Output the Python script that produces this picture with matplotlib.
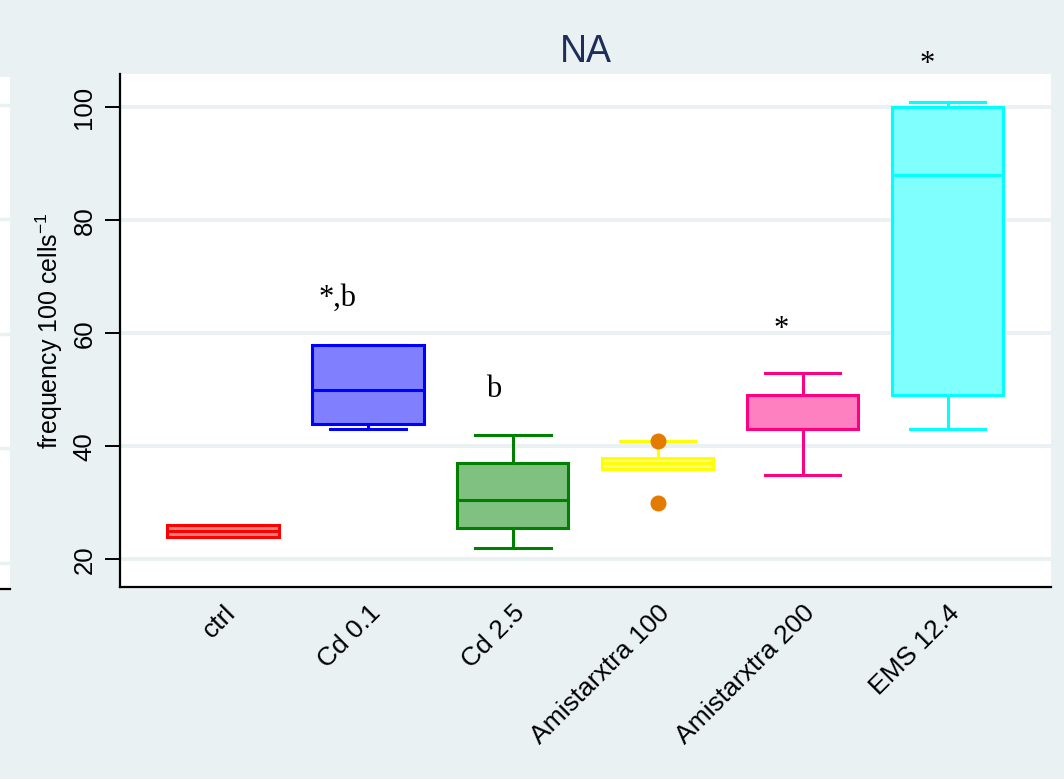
import matplotlib.pyplot as plt

plt.rcParams['font.family'] = ['Liberation Sans', 'DejaVu Sans']
plt.rcParams['mathtext.fontset'] = 'custom'
plt.rcParams['mathtext.rm'] = 'Liberation Sans'

# box summaries per treatment
groups = ['ctrl', 'Cd 0.1', 'Cd 2.5', 'Amistarxtra 100', 'Amistarxtra 200', 'EMS 12.4']
q1 = [24, 44, 25.5, 36, 43, 49]
med = [25, 50, 30.5, 37, 43, 88]
q3 = [26, 58, 37, 38, 49, 100]
whislo = [24, 43, 22, 36, 35, 43]
whishi = [26, 58, 42, 41, 53, 101]
fliers = [[], [], [], [41, 30], [], []]

edge_cols = ['#ff0000', '#0000ff', '#008000', '#ffff00', '#ff0080', '#00ffff']
fill_cols = ['#ff8080', '#8080ff', '#80c080', '#ffff80', '#ff80c0', '#80ffff']

# significance letters: text, x, baseline y
notes = ['*,b', 'b', '*', '*']
note_x = [0.79, 1.87, 3.85, 4.855]
note_y = [64.8, 48.7, 59.4, 106.3]

bg = '#e9f1f3'
W, H = 1064, 779

fig = plt.figure(figsize=(W / 100, H / 100), dpi=100, facecolor=bg)

# sliver of the neighbouring panel on the left
ax0 = fig.add_axes([0, 1 - 589 / H, 10 / W, 512 / H], facecolor='white')
ax0.set_ylim(15.4, 104.9)
ax0.set_yticks([20, 40, 60, 80, 100])
ax0.set_xticks([])
ax0.tick_params(axis='y', length=0, labelleft=False)
ax0.grid(axis='y', color=bg, lw=2.5)
for s in ['left', 'right', 'top']:
    ax0.spines[s].set_visible(False)
ax0.spines['bottom'].set_linewidth(1.6)

ax = fig.add_axes([120 / W, 1 - 587 / H, 930.7 / W, 513 / H], facecolor='white')

stats = []
for i in range(len(groups)):
    stats.append(dict(label=groups[i], q1=q1[i], med=med[i], q3=q3[i],
                      whislo=whislo[i], whishi=whishi[i], fliers=fliers[i]))

pos = list(range(len(groups)))
bp = ax.bxp(stats, positions=pos, widths=0.767, capwidths=0.52, patch_artist=True,
            flierprops=dict(marker='o', markersize=10.5, markerfacecolor='#e37b00',
                            markeredgecolor='#e37b00'))

lw = 2.2
for i in range(len(groups)):
    b = bp['boxes'][i]
    b.set_facecolor(fill_cols[i])
    b.set_edgecolor(edge_cols[i])
    b.set_linewidth(lw)
    bp['medians'][i].set_color(edge_cols[i])
    bp['medians'][i].set_linewidth(lw)
    for k in (2 * i, 2 * i + 1):
        bp['whiskers'][k].set_color(edge_cols[i])
        bp['whiskers'][k].set_linewidth(lw)
        bp['caps'][k].set_color(edge_cols[i])
        bp['caps'][k].set_linewidth(lw)

ax.set_xlim(-0.711, 5.711)
ax.set_ylim(15.1, 105.9)
ax.set_yticks([20, 40, 60, 80, 100])
ax.set_axisbelow(True)
ax.grid(axis='y', color=bg, lw=2.8)

ax.set_xticks(pos)
ax.set_xticklabels(groups, rotation=45, ha='right', rotation_mode='anchor', fontsize=19)
ax.tick_params(axis='x', length=0, pad=10)
ax.tick_params(axis='y', length=11, width=1.4, labelsize=18.5, pad=6)
for t in ax.get_yticklabels():
    t.set_rotation(90)
    t.set_va('center')

ax.set_ylabel(r'frequency 100 cells$^{-1}$', fontsize=18, labelpad=5)

for s in ['right', 'top']:
    ax.spines[s].set_visible(False)
ax.spines['left'].set_linewidth(1.6)
ax.spines['bottom'].set_linewidth(1.6)

for txt, x, y in zip(notes, note_x, note_y):
    ax.text(x, y, txt, ha='center', va='baseline', fontsize=22,
            family='Liberation Serif', clip_on=False)

fig.text(586 / W, 1 - 61.7 / H, 'NA', ha='center', va='baseline',
         fontsize=27, color='#1e2d59')

fig.savefig('out.png', dpi=100, facecolor=bg)
